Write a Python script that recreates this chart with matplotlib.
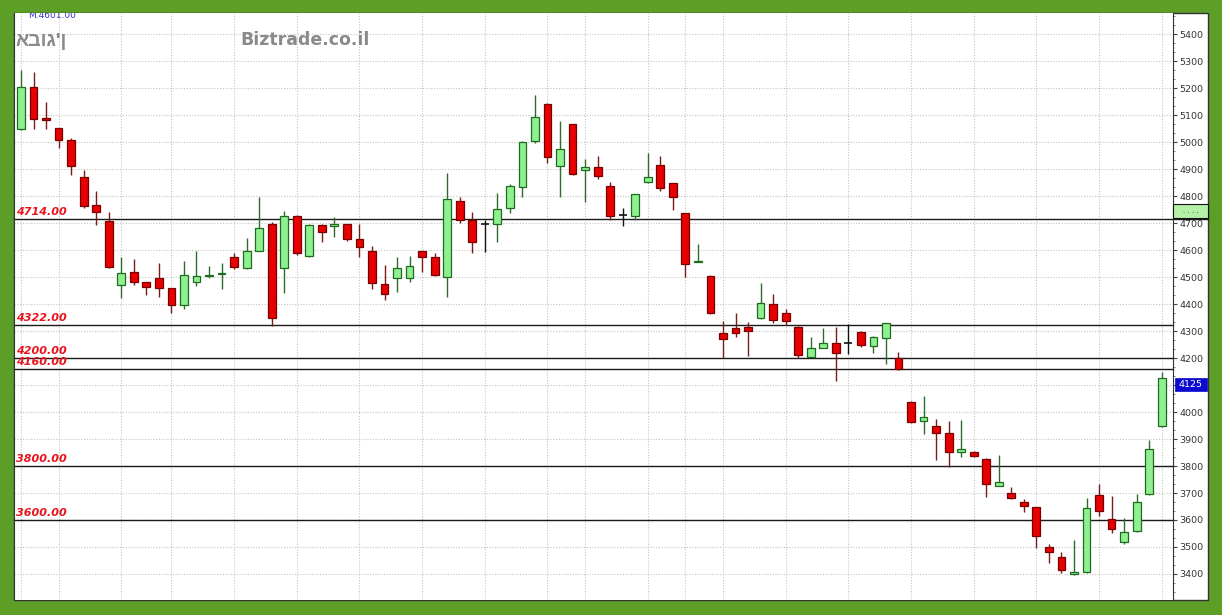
import matplotlib
matplotlib.use("Agg")
import matplotlib.pyplot as plt
from matplotlib.patches import Rectangle
from matplotlib.ticker import MultipleLocator, FixedLocator

# ---------------- data ----------------
opens = [5047, 5203, 5088, 5051, 5007, 4869, 4767, 4707, 4470, 4517,
         4480, 4497, 4458, 4396, 4480, 4502, 4511, 4575, 4532, 4597,
         4696, 4532, 4726, 4579, 4693, 4689, 4695, 4640, 4596, 4474,
         4496, 4495, 4596, 4573, 4499, 4783, 4711, 4697, 4696, 4754,
         4834, 5004, 5141, 4911, 5066, 4896, 4906, 4837, 4730, 4727,
         4852, 4916, 4847, 4736, 4557, 4504, 4291, 4310, 4316, 4347,
         4399, 4368, 4316, 4205, 4238, 4254, 4257, 4297, 4246, 4275,
         4201, 4037, 3966, 3948, 3921, 3853, 3851, 3827, 3727, 3701,
         3668, 3648, 3501, 3464, 3399, 3409, 3693, 3603, 3517, 3559,
         3695, 3948]
highs = [5267, 5260, 5149, 5051, 5014, 4896, 4820, 4740, 4573, 4566,
         4482, 4553, 4460, 4560, 4597, 4541, 4553, 4588, 4643, 4797,
         4705, 4746, 4728, 4697, 4695, 4723, 4697, 4696, 4616, 4544,
         4573, 4578, 4598, 4588, 4886, 4795, 4742, 4711, 4812, 4844,
         5002, 5174, 5143, 5078, 5068, 4937, 4948, 4852, 4757, 4808,
         4958, 4948, 4849, 4738, 4621, 4506, 4337, 4366, 4334, 4477,
         4437, 4380, 4318, 4277, 4310, 4316, 4326, 4299, 4281, 4331,
         4221, 4040, 4059, 3974, 3968, 3970, 3855, 3830, 3841, 3723,
         3677, 3650, 3511, 3483, 3526, 3680, 3732, 3689, 3606, 3696,
         3896, 4149]
lows = [5045, 5047, 5047, 4979, 4878, 4754, 4693, 4535, 4421, 4470,
        4433, 4427, 4366, 4380, 4467, 4496, 4454, 4528, 4530, 4597,
        4318, 4440, 4581, 4575, 4631, 4647, 4635, 4575, 4454, 4415,
        4446, 4480, 4520, 4505, 4425, 4699, 4588, 4594, 4628, 4736,
        4795, 4997, 4921, 4797, 4879, 4779, 4864, 4711, 4689, 4711,
        4850, 4819, 4748, 4499, 4556, 4362, 4201, 4277, 4207, 4345,
        4331, 4322, 4199, 4203, 4236, 4116, 4215, 4242, 4220, 4178,
        4156, 3958, 3917, 3822, 3797, 3834, 3834, 3684, 3725, 3677,
        3631, 3495, 3442, 3405, 3397, 3405, 3616, 3551, 3510, 3554,
        3693, 3945]
closes = [5203, 5084, 5080, 5007, 4911, 4763, 4742, 4538, 4514, 4480,
          4464, 4460, 4396, 4506, 4504, 4506, 4513, 4536, 4596, 4680,
          4347, 4726, 4590, 4693, 4666, 4696, 4640, 4612, 4477, 4437,
          4533, 4540, 4575, 4507, 4789, 4711, 4631, 4697, 4753, 4838,
          4999, 5091, 4943, 4974, 4881, 4906, 4874, 4727, 4730, 4806,
          4871, 4831, 4797, 4547, 4560, 4368, 4269, 4291, 4301, 4403,
          4341, 4338, 4211, 4238, 4257, 4217, 4257, 4248, 4279, 4329,
          4158, 3962, 3980, 3921, 3851, 3864, 3837, 3732, 3742, 3680,
          3653, 3542, 3483, 3415, 3409, 3643, 3634, 3568, 3556, 3668,
          3862, 4125]

level_values = [4714, 4322, 4200, 4160, 3800, 3600]
level_labels = ["4714.00", "4322.00", "4200.00", "4160.00", "3800.00", "3600.00"]
grid_columns = [0, 3, 8, 12, 17, 22, 27, 32, 37, 42, 45, 50, 53, 56, 61, 66,
                71, 76, 81, 86, 91]
y_ticks = list(range(3400, 5401, 100))
last_price_label = "4125"
title_left = "אבוג'ן"
title_site = "Biztrade.co.il"
top_note = "M.4601.00"

# ---------------- figure ----------------
W, H = 1222, 615
fig = plt.figure(figsize=(W / 100, H / 100), dpi=100)
fig.patch.set_facecolor("#5c9e26")

def fx(px):
    return px / W

def fy(py):
    return 1 - py / H

# white panel (behind axes)
fig.patches.append(Rectangle((fx(14), fy(600)), fx(1208 - 14), (600 - 13) / H,
                             transform=fig.transFigure, facecolor="white",
                             edgecolor="#333333", lw=1, zorder=-10))

ax = fig.add_axes([fx(14), fy(600), fx(1173 - 14), (600 - 13) / H])
ax.set_zorder(1)
ax.set_facecolor("white")
ax.set_xlim(-0.558, 91.9)
ax.set_ylim(3303.7, 5477.8)

# grid
grid_kw = dict(color="#c4c4c4", lw=0.8, linestyle=(0, (1, 1.5)), zorder=1)
for c in grid_columns:
    ax.axvline(c, **grid_kw)
for t in y_ticks:
    ax.axhline(t, **grid_kw)

# level lines
for v, lab in zip(level_values, level_labels):
    xmax = 1.0302 if v == 4714 else 1.0
    ax.axhline(v, color="#1a1a1a", lw=1.0, xmin=0, xmax=xmax, clip_on=False, zorder=2)
    ax.annotate(lab, xy=(0.0017, v), xycoords=ax.get_yaxis_transform(),
                xytext=(0, 1.5), textcoords="offset points",
                ha="left", va="bottom", fontsize=8, fontweight="bold",
                fontstyle="italic", color="#e8141e", zorder=5)

# candles
bw = 0.62
for i, (o, h, l, c) in enumerate(zip(opens, highs, lows, closes)):
    if c > o:
        face, edge, wick = "#8ef08e", "#1f6b1f", "#2a6e2a"
    elif c < o:
        face, edge, wick = "#e60000", "#7a0000", "#7a1a1a"
    else:
        face, edge, wick = None, "#111111", "#111111"
    ax.vlines(i, l, h, color=wick, lw=1.0, zorder=3)
    if face is None:
        ax.hlines(o, i - bw / 2, i + bw / 2, color=edge, lw=1.2, zorder=4)
    else:
        ax.bar(i, abs(c - o), bottom=min(o, c), width=bw, facecolor=face,
               edgecolor=edge, lw=0.9, zorder=4)

# axes styling
for s in ["top", "bottom"]:
    ax.spines[s].set_visible(False)
ax.spines["left"].set_color("#333333")
ax.spines["right"].set_color("#333333")
ax.xaxis.set_visible(False)
ax.yaxis.tick_right()
ax.yaxis.set_major_locator(FixedLocator(y_ticks))
ax.yaxis.set_minor_locator(MultipleLocator(100 / 3))
ax.tick_params(axis="y", which="major", direction="out", length=3, width=0.8,
               color="#444444", labelsize=6.8, labelcolor="#333333", pad=1.5)
ax.tick_params(axis="y", which="minor", direction="out", length=1.5, width=0.6,
               color="#666666")

# right-axis markers
ax.add_patch(Rectangle((1.0, 4719), 0.0302, 51, transform=ax.get_yaxis_transform(),
                       facecolor="#b4f0a8", edgecolor="#111111", lw=0.8,
                       clip_on=False, zorder=6))
ax.text(1.015, 4745, ". . . .", transform=ax.get_yaxis_transform(), ha="center",
        va="center", fontsize=5, color="#333333", clip_on=False, zorder=7)
ax.add_patch(Rectangle((1.0017, 4078), 0.0276, 48, transform=ax.get_yaxis_transform(),
                       facecolor="#0a0ad0", edgecolor="#0a0ad0", lw=0.5,
                       clip_on=False, zorder=6))
ax.text(1.0155, 4102, last_price_label, transform=ax.get_yaxis_transform(),
        ha="center", va="center", fontsize=6.8, color="white", clip_on=False, zorder=7)

# texts
fig.text(fx(15), fy(41), title_left, fontsize=14, fontweight="bold", color="#8a8a8a",
         ha="left", va="center", family="Liberation Sans", zorder=5)
fig.text(fx(240), fy(40), title_site, fontsize=12.5, fontweight="bold",
         color="#8a8a8a", ha="left", va="center", family="DejaVu Sans", zorder=5)
ax.text((28 - 14) / (1173 - 14), 1 - (15 - 13) / (600 - 13), top_note,
        transform=ax.transAxes, fontsize=6.5, color="#3232c8", ha="left",
        va="center", clip_on=True)

fig.savefig("out.png", dpi=100, facecolor=fig.get_facecolor())
